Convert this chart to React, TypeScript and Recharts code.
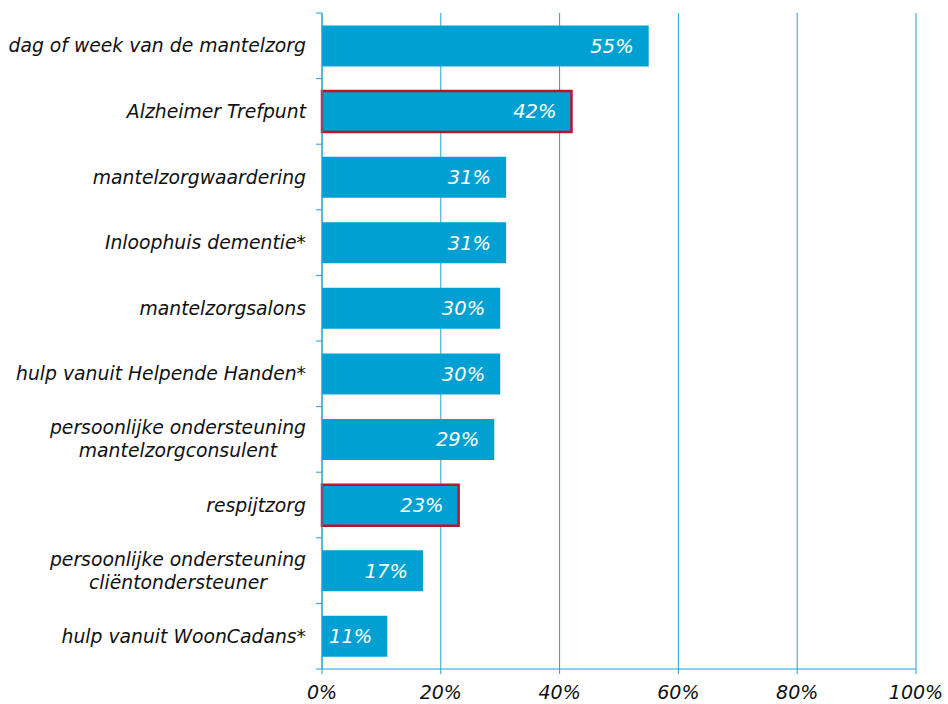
import React from 'react';
import { BarChart, Bar, XAxis, YAxis, CartesianGrid, LabelList, Cell } from 'recharts';

const categories = [
  'dag of week van de mantelzorg',
  'Alzheimer Trefpunt',
  'mantelzorgwaardering',
  'Inloophuis dementie*',
  'mantelzorgsalons',
  'hulp vanuit Helpende Handen*',
  'persoonlijke ondersteuning\nmantelzorgconsulent',
  'respijtzorg',
  'persoonlijke ondersteuning\ncliëntondersteuner',
  'hulp vanuit WoonCadans*',
];
const values = [55, 42, 31, 31, 30, 30, 29, 23, 17, 11];
const highlighted = ['Alzheimer Trefpunt', 'respijtzorg'];
const xTicks = [0, 20, 40, 60, 80, 100];

const data = categories.map((name, i) => ({ name, value: values[i] }));

const W = 948;
const H = 704;
const M = { top: 13, right: 32, bottom: 0, left: 0 };
const Y_W = 322;
const X_H = 35;
const PLOT_H = H - M.top - M.bottom - X_H;
const BAND = PLOT_H / categories.length;

const BLUE = '#00a1d2';
const GRID = '#1ba3d9';
const RED = '#c0102c';
const FONT = '"DejaVu Sans", Verdana, sans-serif';

let ctx: CanvasRenderingContext2D | null = null;
function measure(s: string, size: number) {
  if (!ctx) ctx = document.createElement('canvas').getContext('2d');
  if (!ctx) return s.length * size * 0.6;
  ctx.font = `italic ${size}px ${FONT}`;
  return ctx.measureText(s).width;
}

function CategoryTick(props: any) {
  const { x, y, payload, index } = props;
  const lines = String(payload.value).split('\n');
  const size = 18.8;
  const axisX = x + 16;
  const lh = 23;
  const widest = Math.max(...lines.map((l) => measure(l, size)));
  const cx = x - widest / 2;
  const y0 = y - ((lines.length - 1) * lh) / 2;
  return (
    <g>
      <line x1={axisX - 6} x2={axisX} y1={y - BAND / 2} y2={y - BAND / 2} stroke={GRID} />
      {index === categories.length - 1 && (
        <line x1={axisX - 6} x2={axisX} y1={y + BAND / 2} y2={y + BAND / 2} stroke={GRID} />
      )}
      {lines.map((l, i) => (
        <text
          key={i}
          x={lines.length > 1 ? cx : x}
          y={y0 + i * lh}
          dy="0.35em"
          textAnchor={lines.length > 1 ? 'middle' : 'end'}
          fontSize={size}
          fontStyle="italic"
          fontFamily={FONT}
          fill="#111"
        >
          {l}
        </text>
      ))}
    </g>
  );
}

export default function App() {
  return (
    <div style={{ position: 'absolute', left: 0, top: 0, background: '#fff' }}>
      <BarChart
        width={W}
        height={H}
        data={data}
        layout="vertical"
        margin={M}
        barCategoryGap="19%"
      >
        <CartesianGrid horizontal={false} stroke={GRID} strokeWidth={1} />
        <XAxis
          type="number"
          domain={[0, 100]}
          ticks={xTicks}
          tickFormatter={(v) => `${v}%`}
          height={X_H}
          tickSize={5}
          tickMargin={12}
          axisLine={{ stroke: GRID }}
          tickLine={{ stroke: GRID }}
          tick={{ fontSize: 19, fontStyle: 'italic', fontFamily: FONT, fill: '#111' }}
          interval={0}
        />
        <YAxis
          type="category"
          dataKey="name"
          width={Y_W}
          tickSize={0}
          tickMargin={16}
          axisLine={{ stroke: GRID }}
          tickLine={false}
          tick={<CategoryTick />}
          interval={0}
        />
        <Bar dataKey="value" fill={BLUE} isAnimationActive={false}>
          {data.map((d) => (
            <Cell
              key={d.name}
              fill={BLUE}
              stroke={highlighted.includes(d.name) ? RED : 'none'}
              strokeWidth={highlighted.includes(d.name) ? 2.5 : 0}
            />
          ))}
          <LabelList
            dataKey="value"
            position="insideRight"
            offset={15}
            formatter={(v: any) => `${v}%`}
            style={{ fill: '#fff', fontSize: 19.5, fontStyle: 'italic', fontFamily: FONT }}
          />
        </Bar>
      </BarChart>
    </div>
  );
}
